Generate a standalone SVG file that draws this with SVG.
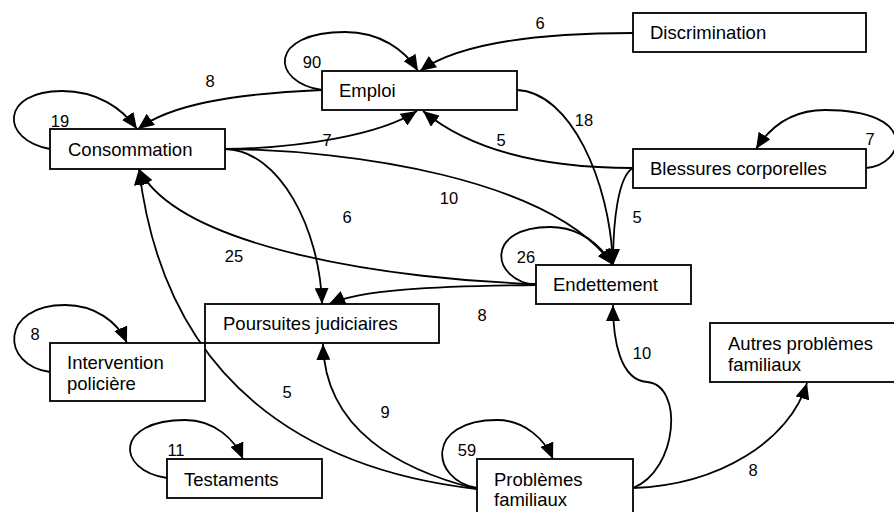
<svg xmlns="http://www.w3.org/2000/svg" width="894" height="512" viewBox="0 0 894 512">
<style>
.box{fill:#fff;stroke:#000;stroke-width:1.8}
.t{font-family:"Liberation Sans",Arial,sans-serif;font-size:18.5px;fill:#000}
.n{font-family:"Liberation Sans",Arial,sans-serif;font-size:16.5px;fill:#000;text-anchor:middle}
.e{fill:none;stroke:#000;stroke-width:1.8}
</style>
<defs>
<marker id="ah" markerUnits="userSpaceOnUse" markerWidth="17" markerHeight="14" refX="16" refY="7" orient="auto">
<path d="M0,0 L16,7 L0,14 z" fill="#000"/>
</marker>
</defs>
<rect width="894" height="512" fill="#fff"/>
<g id="connectors" marker-end="url(#ah)">
<path class="e" d="M633,33 C540,33 460,42 420,71"/>
<path class="e" d="M322,90 C270,82 268,32 345,32 C380,32 405,50 418,71"/>
<path class="e" d="M322,90 C230,94 170,105 138,129"/>
<path class="e" d="M50,149 C0,140 0,91 62,91 C97,91 122,108 137,129"/>
<path class="e" d="M225,149 C300,148 380,135 417,111"/>
<path class="e" d="M633,168 C540,168 470,150 423,111"/>
<path class="e" d="M517,90 C570,92 610,180 613,265"/>
<path class="e" d="M633,168 C618,176 613,222 613,265"/>
<path class="e" d="M866,168 C905,165 920,110 825,110 C792,110 770,127 756,149"/>
<path class="e" d="M225,149 C350,150 550,178 613,265"/>
<path class="e" d="M225,149 C280,150 320,230 322,304"/>
<path class="e" d="M536,284 C400,280 180,250 139,169"/>
<path class="e" d="M536,285 C430,286 360,290 329,304"/>
<path class="e" d="M536,285 C490,280 485,227 550,227 C580,227 600,245 613,265"/>
<path class="e" d="M477,489 C310,470 165,385 139,169"/>
<path class="e" d="M477,489 C400,470 325,430 323,344"/>
<path class="e" d="M477,488 C430,480 425,420 497,420 C525,420 545,440 553,459"/>
<path class="e" d="M633,488 C678,470 684,385 647,382 C620,380 613,340 613,305"/>
<path class="e" d="M633,488 C720,485 790,440 807,383"/>
<path class="e" d="M50,372 C0,365 0,305 65,305 C95,305 118,322 127,343"/>
<path class="e" d="M167,478 C115,470 115,420 185,420 C215,420 235,440 243,459"/>
</g>
<g id="labels">
<text class="n" x="540" y="29">6</text>
<text class="n" x="312" y="68">90</text>
<text class="n" x="210" y="87">8</text>
<text class="n" x="60" y="127">19</text>
<text class="n" x="327" y="146">7</text>
<text class="n" x="584" y="126">18</text>
<text class="n" x="501" y="146">5</text>
<text class="n" x="870" y="145">7</text>
<text class="n" x="449" y="204">10</text>
<text class="n" x="347" y="223">6</text>
<text class="n" x="234" y="262">25</text>
<text class="n" x="526" y="263">26</text>
<text class="n" x="637" y="223">5</text>
<text class="n" x="482" y="321">8</text>
<text class="n" x="35" y="340">8</text>
<text class="n" x="642" y="359">10</text>
<text class="n" x="287" y="398">5</text>
<text class="n" x="385" y="418">9</text>
<text class="n" x="176" y="456">11</text>
<text class="n" x="467" y="456">59</text>
<text class="n" x="753" y="476">8</text>
</g>
<g id="emploi"><rect class="box" x="322" y="71" width="195" height="39"/><text class="t" x="339" y="97">Emploi</text></g>
<g id="consommation"><rect class="box" x="50" y="129" width="175" height="40"/><text class="t" x="68" y="156">Consommation</text></g>
<g id="discrimination"><rect class="box" x="633" y="13" width="233" height="39"/><text class="t" x="650" y="39">Discrimination</text></g>
<g id="blessures"><rect class="box" x="633" y="149" width="233" height="39"/><text class="t" x="650" y="175">Blessures corporelles</text></g>
<g id="endettement"><rect class="box" x="536" y="265" width="155" height="39"/><text class="t" x="553" y="291">Endettement</text></g>
<g id="poursuites"><rect class="box" x="205" y="304" width="234" height="39"/><text class="t" x="223" y="330">Poursuites judiciaires</text></g>
<g id="intervention"><rect class="box" x="50" y="343" width="155" height="58"/><text class="t" x="67" y="369">Intervention</text><text class="t" x="67" y="390">policière</text></g>
<g id="testaments"><rect class="box" x="167" y="459" width="155" height="39"/><text class="t" x="184" y="486">Testaments</text></g>
<g id="problemes"><rect class="box" x="477" y="459" width="156" height="60"/><text class="t" x="494" y="486">Problèmes</text><text class="t" x="494" y="506">familiaux</text></g>
<g id="autres"><rect class="box" x="710" y="323" width="200" height="59"/><text class="t" x="728" y="350">Autres problèmes</text><text class="t" x="728" y="371">familiaux</text></g>
</svg>
